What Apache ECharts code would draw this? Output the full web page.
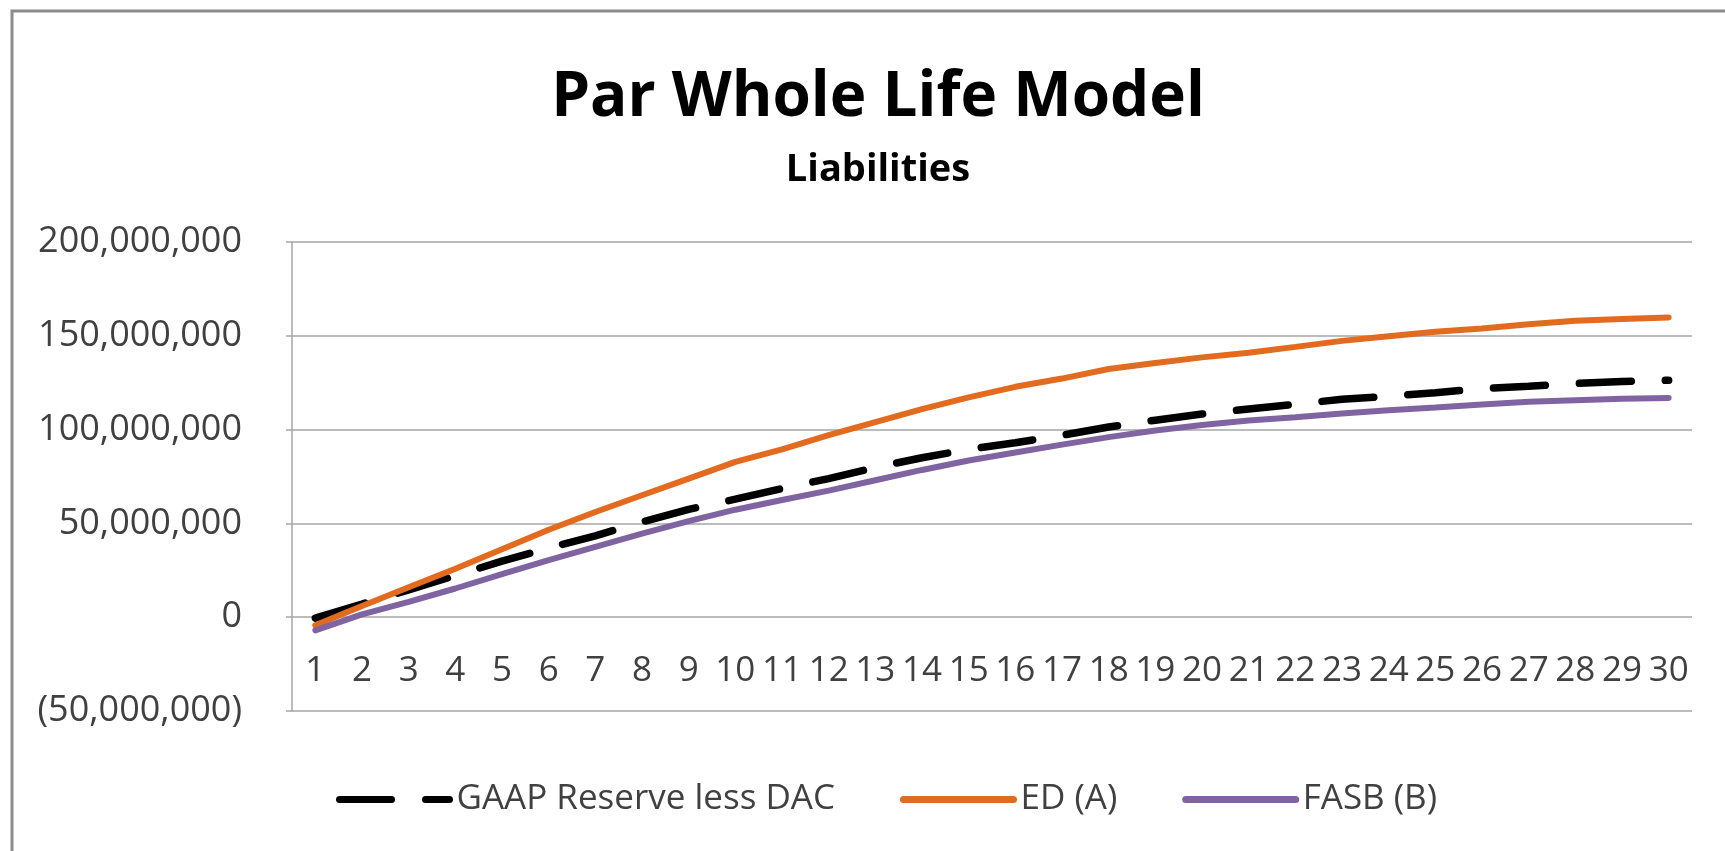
<!DOCTYPE html>
<html>
<head>
<meta charset="utf-8">
<title>Par Whole Life Model</title>
<script src="https://cdn.jsdelivr.net/npm/echarts@6/dist/echarts.min.js"></script>
<style>
  html, body { margin: 0; padding: 0; background: #fff; }
  #chart { width: 1725px; height: 851px; }
</style>
</head>
<body>
<div id="chart"></div>
<script>
// values in millions
const years = ['1', '2', '3', '4', '5', '6', '7', '8', '9', '10',
  '11', '12', '13', '14', '15', '16', '17', '18', '19', '20',
  '21', '22', '23', '24', '25', '26', '27', '28', '29', '30']

const gaapReserve = [-0.5, 7, 14.6, 22.2, 29.9, 36.9, 43.4, 50.8, 57.5, 62.9,
  68.6, 73.9, 79.8, 85, 89.5, 93, 97, 101.4, 105, 108.3,
  111, 113.5, 116.2, 117.8, 119.6, 121.9, 123.1, 124.6, 125.6, 126.3]

const edA = [-4.3, 6, 16, 25.8, 36.2, 46.6, 56.1, 65, 73.9, 82.8,
  89.5, 97, 104, 110.9, 117.2, 122.8, 127.2, 132.3, 135.5, 138.5,
  141, 144.1, 147.3, 149.8, 152.1, 153.9, 156.2, 158, 159, 159.8]

const fasbB = [-7, 1.5, 8.2, 15.3, 22.9, 30.4, 37.5, 44.6, 51.2, 57.3,
  62.5, 67.5, 73, 78.5, 83.5, 87.8, 92, 96, 99.5, 102.5,
  104.8, 106.6, 108.6, 110.3, 111.8, 113.4, 114.8, 115.7, 116.4, 116.9]

const yMin = -50
const yMax = 200
const yStep = 50

const font = '"Open Sans", "Noto Sans", sans-serif'

const gridTop = 242
const gridBottom = 140
const chartHeight = 851

function fmtMoney (v) {
  let n = Math.abs(v * 1000000).toLocaleString('en-US')
  return v < 0 ? '(' + n + ')' : n
}

// the category labels sit under the zero line, as in Excel
let plotHeight = chartHeight - gridTop - gridBottom
let zeroShift = -plotHeight * (0 - yMin) / (yMax - yMin)

let myChart = echarts.init(document.getElementById('chart'))

let option = {
  backgroundColor: '#fff',
  animation: false,
  graphic: [{
    type: 'rect',
    shape: { x: 12, y: 11, width: 1800, height: 900 },
    style: { fill: 'none', stroke: '#8c8c8c', lineWidth: 3 },
    silent: true
  }],
  title: [{
    text: 'Par Whole Life Model',
    left: 873,
    top: 62,
    textAlign: 'center',
    textStyle: { fontFamily: font, fontSize: 62, fontWeight: 'bold', color: '#000' }
  }, {
    text: 'Liabilities',
    left: 873,
    top: 146,
    textAlign: 'center',
    textStyle: { fontFamily: font, fontSize: 38, fontWeight: 'bold', color: '#000' }
  }],
  legend: {
    left: 331,
    top: 777,
    itemWidth: 110,
    itemHeight: 20,
    itemGap: 65,
    itemStyle: { opacity: 0 },
    lineStyle: { width: 7 },
    textStyle: { fontFamily: font, fontSize: 35, color: '#404040', padding: [0, 0, 0, 2] },
    data: ['GAAP Reserve less DAC', 'ED (A)', 'FASB (B)']
  },
  grid: {
    left: 292,
    right: 33,
    top: gridTop,
    bottom: gridBottom
  },
  xAxis: {
    type: 'category',
    data: years,
    boundaryGap: true,
    offset: zeroShift,
    axisLine: { show: false, onZero: false },
    axisTick: { show: false },
    axisLabel: {
      interval: 0,
      margin: 36,
      fontFamily: font,
      fontSize: 35,
      color: '#404040'
    },
    splitLine: { show: false }
  },
  yAxis: {
    type: 'value',
    min: yMin,
    max: yMax,
    interval: yStep,
    axisLine: { show: true, lineStyle: { color: '#a6a6a6', width: 1.5 } },
    axisTick: { show: true, inside: false, length: 6, lineStyle: { color: '#a6a6a6', width: 1.5 } },
    axisLabel: {
      margin: 50,
      fontFamily: font,
      fontSize: 36,
      color: '#404040',
      formatter: fmtMoney
    },
    splitLine: { show: true, lineStyle: { color: '#a6a6a6', width: 1.5 } }
  },
  series: [{
    name: 'GAAP Reserve less DAC',
    type: 'line',
    data: gaapReserve,
    symbol: 'none',
    color: '#000',
    lineStyle: { color: '#000', width: 7.5, type: [52, 34], cap: 'round' }
  }, {
    name: 'ED (A)',
    type: 'line',
    data: edA,
    symbol: 'none',
    color: '#e26b1f',
    lineStyle: { color: '#e26b1f', width: 6, cap: 'round' }
  }, {
    name: 'FASB (B)',
    type: 'line',
    data: fasbB,
    symbol: 'none',
    color: '#8064a2',
    lineStyle: { color: '#8064a2', width: 6, cap: 'round' }
  }]
}

myChart.setOption(option)
</script>
</body>
</html>
